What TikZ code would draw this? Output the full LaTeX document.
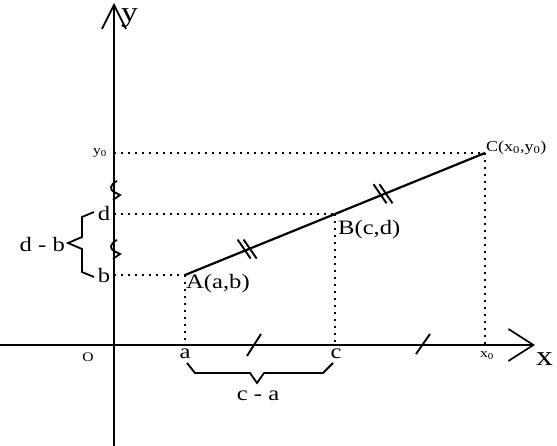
\documentclass[tikz,border=0pt]{standalone}
\usepackage{fontspec}
\setmainfont[FakeStretch=1.2]{Liberation Serif}
\usetikzlibrary{arrows.meta}
\begin{document}
\begin{tikzpicture}[x=1pt,y=-1pt,
  axis/.style={line width=1.9pt},
  dots/.style={line width=2pt, dash pattern=on 2pt off 5pt},
  seg/.style={line width=2.2pt},
  tick/.style={line width=1.9pt},
  lab/.style={inner sep=0pt, font=\fontsize{20.5}{20.5}\selectfont},
  small/.style={inner sep=0pt, font=\fontsize{13}{13}\selectfont},
  big/.style={inner sep=0pt, font=\fontsize{28}{28}\selectfont}]
\useasboundingbox (0,0) rectangle (557,446);
% points
\coordinate (O) at (114,345);
\coordinate (A) at (185,275);
\coordinate (B) at (335,214);
\coordinate (C) at (485,153);
\coordinate (ya) at (114,275);
\coordinate (yd) at (114,214);
\coordinate (yy) at (114,153);
\coordinate (xa) at (185,345);
\coordinate (xc) at (335,345);
\coordinate (xx) at (485,345);
\coordinate (ybot) at (114,446);
\coordinate (ytop) at (114,3);
\coordinate (xl) at (0,345);
\coordinate (xr) at (535,345);
% axes
\draw[axis,-{Straight Barb[length=24pt,width=24pt,line width=1.7pt]}] (ybot) -- (ytop);
\draw[axis,-{Straight Barb[length=25pt,width=32pt,line width=1.7pt]}] (xl) -- (xr);
% dotted guides
\draw[dots] (ya) -- (A);
\draw[dots] (yd) -- (B);
\draw[dots] (yy) -- (C);
\draw[dots] (A) -- (xa);
\draw[dots] (B) -- (xc);
\draw[dots] (C) -- (xx);
% segment
\draw[seg] (A) -- (C);
% double ticks on segment
\foreach \p in {0.217,0.67}{
  \path (A) -- (C) coordinate[pos=\p] (m);
  \draw[tick] ([shift={(-10,-9)}]m) ++(-2.5,0) -- ++(13,19);
  \draw[tick] ([shift={(-10,-9)}]m) ++(3.5,0) -- ++(13,19);
}
% single ticks on x axis
\coordinate (t1) at (254,345);
\coordinate (t2) at (423,345);
\draw[tick] ([shift={(-7,11)}]t1) -- ([shift={(7,-11)}]t1);
\draw[tick] ([shift={(-7,9)}]t2) -- ([shift={(7,-11)}]t2);
% breaks on y axis
\foreach \yy in {181,240}{
  \draw[line width=1.8pt] (117,\yy) .. controls (109,\yy+4) and (110,\yy+9) .. (114,\yy+11) -- (120,\yy+14) -- (113,\yy+19);
}
% braces
\draw[line width=1.8pt] (94,212) -- (82,217) -- (82,237) -- (68,243) -- (82,249) -- (82,272) -- (94,277);
\draw[line width=1.8pt] (187,363) -- (195,373) -- (250,373) -- (257,383) -- (264,373) -- (323,373) -- (333,363);
% labels
\node[big,anchor=base west] (ylab) at (121,22) {y};
\node[big,anchor=base west] (xlab) at (536,366) {x};
\node[small] (olab) at (88,357) {O};
\node[lab] (alab) at (185,354) {a};
\node[lab] (clab) at (336,354) {c};
\node[small] (x0lab) at (487,356) {x\textsubscript{0}};
\node[lab] (blab) at (104,275) {b};
\node[lab] (dlab) at (104,213) {d};
\node[small] (y0lab) at (100,153) {y\textsubscript{0}};
\node[lab,anchor=east] (dblab) at (65,244) {d - b};
\node[lab] (calab) at (258,396) {c - a};
\node[lab,anchor=west] (Alab) at (186,284) {A(a,b)};
\node[lab,anchor=west] (Blab) at (338,230) {B(c,d)};
\node[small,anchor=west,font=\fontsize{15}{15}\selectfont] (Clab) at (486,148) {C(x\textsubscript{0},y\textsubscript{0})};
\end{tikzpicture}
\end{document}
